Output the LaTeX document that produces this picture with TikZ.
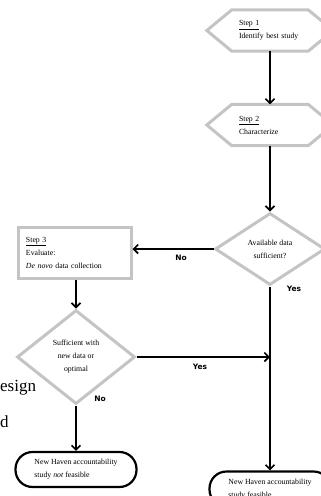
\documentclass[tikz,border=0pt]{standalone}
\usepackage{fontspec}
\setmainfont{Liberation Serif}
\newfontfamily\lblfont{DejaVu Sans}
\usetikzlibrary{shapes.geometric,arrows.meta,calc}
\definecolor{shapegray}{HTML}{C4C4C4}
\begin{document}
\begin{tikzpicture}[x=1pt,y=-1pt,
  txt/.style={font=\fontsize{7.8}{13}\selectfont},
  grayline/.style={draw=shapegray,line width=3pt,line join=miter},
  hexbody/.style={txt,minimum width=76pt,minimum height=41pt,inner sep=0pt,text width=62pt,align=left},
  stepbox/.style={txt,grayline,rectangle,minimum width=113pt,minimum height=51pt,inner sep=0pt,text width=97pt,align=left},
  decision/.style={txt,grayline,diamond,inner sep=0pt,align=center},
  term/.style={txt,draw=black,line width=2.2pt,rectangle,rounded corners=17pt,minimum width=121pt,minimum height=35pt,inner sep=0pt,align=left},
  arr/.style={line width=1.6pt,-{Straight Barb[length=4.5pt,width=9pt]}},
  lbl/.style={font=\lblfont\bfseries\fontsize{7.5}{9}\selectfont,inner sep=0pt},
  bgtext/.style={font=\fontsize{17}{19}\selectfont,inner sep=0pt,anchor=base west}
]
\useasboundingbox (0,0) rectangle (321,496);
\clip (0,0) rectangle (321,496);

% background page text
\node[bgtext] (bg1) at (0,391) {esign};
\node[bgtext] (bg2) at (0,427) {d};

% Step 1
\node[hexbody] (s1) at (270,30.5) {\underline{Step 1}\\Identify best study};
\draw[grayline] (s1.north west) -- (s1.north east) -- ([xshift=25pt]s1.east) -- (s1.south east) -- (s1.south west) -- ([xshift=-25pt]s1.west) -- cycle;

% Step 2
\node[hexbody] (s2) at (270,125) {\underline{Step 2}\\Characterize};
\draw[grayline] (s2.north west) -- (s2.north east) -- ([xshift=25pt]s2.east) -- (s2.south east) -- (s2.south west) -- ([xshift=-25pt]s2.west) -- cycle;

% Decision 1
\node[decision,minimum width=110pt,minimum height=72pt] (d1) at (270,249) {Available data\\sufficient?};

% Step 3
\node[stepbox] (s3) at (74.5,252.5) {\underline{Step 3}\\Evaluate:\\\textit{De novo} data collection};

% Decision 2
\node[decision,minimum width=118pt,minimum height=94pt] (d2) at (76,357) {Sufficient with\\new data or\\optimal};

% Terminals
\node[term] (t1) at (76,469.5) {New Haven accountability\\study \textit{not} feasible};
\node[term] (t2) at (270,489) {New Haven accountability\\study feasible};

\coordinate (j) at (270,357);

% connectors
\draw[arr] (s1.south) -- (s2.north);
\draw[arr] (s2.south) -- (d1.north);
\draw[arr] (d1.west) -- (s3.east |- d1.west);
\draw[arr] (s3.south -| d2.north) -- (d2.north);
\draw[arr] (d1.south) -- (t2.north);
\draw[arr] (d2.east) -- (j);
\draw[arr] (d2.south) -- (t1.north);

% labels
\node[lbl] (lno1) at (181,258) {No};
\node[lbl] (lyes1) at (294,289) {Yes};
\node[lbl] (lyes2) at (200,367) {Yes};
\node[lbl] (lno2) at (100,399) {No};
\end{tikzpicture}
\end{document}
